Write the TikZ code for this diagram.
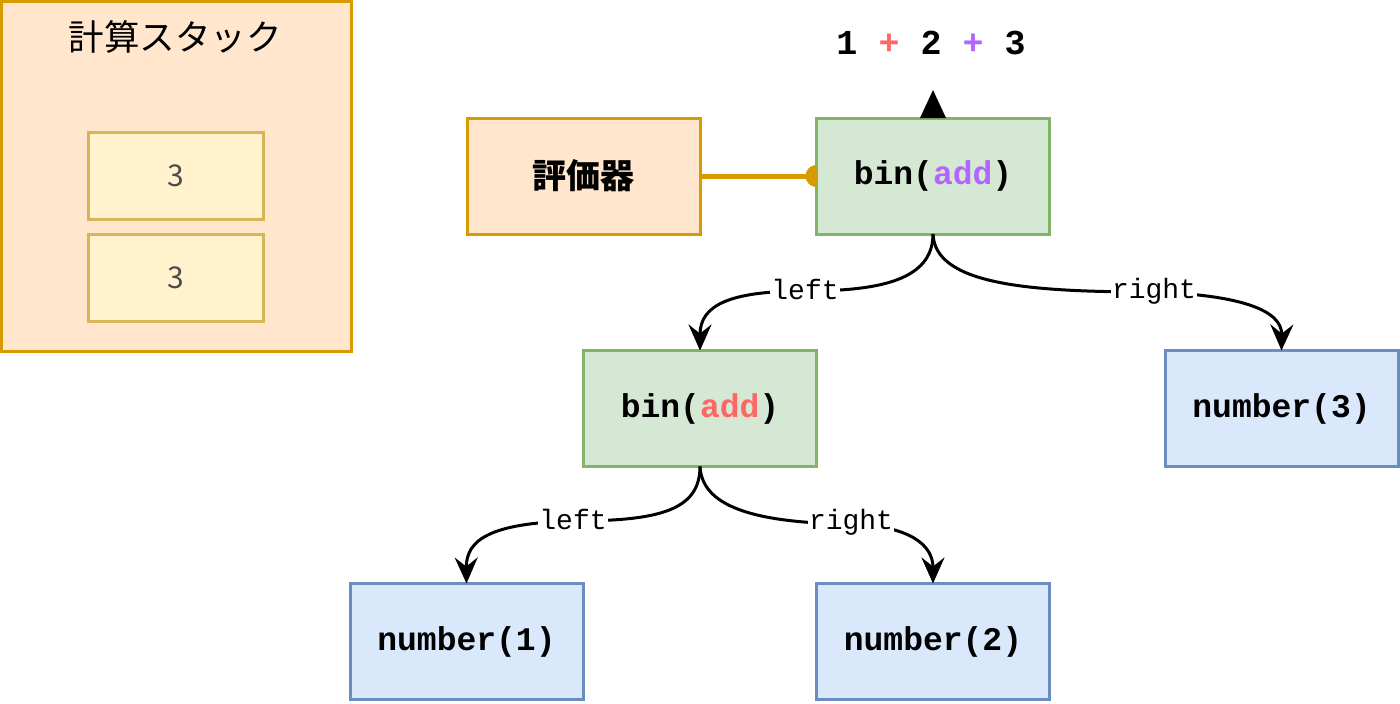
\documentclass[tikz,border=0pt]{standalone}
\usepackage{fontspec}
\setmonofont{Liberation Mono}
\newfontfamily\jp{Noto Sans CJK JP}
\usetikzlibrary{arrows.meta,calc}
\definecolor{orF}{HTML}{FFE6CC}\definecolor{orD}{HTML}{D79B00}
\definecolor{yeF}{HTML}{FFF2CC}\definecolor{yeD}{HTML}{D6B656}
\definecolor{grF}{HTML}{D5E8D4}\definecolor{grD}{HTML}{82B366}
\definecolor{blF}{HTML}{DAE8FC}\definecolor{blD}{HTML}{6C8EBF}
\definecolor{pu}{HTML}{B266FF}\definecolor{rd}{HTML}{FF6666}
\begin{document}
\begin{tikzpicture}[x=1pt,y=-1pt,
  box/.style={draw, line width=3pt, inner sep=0pt, outer sep=0pt, minimum width=233pt, minimum height=116pt},
  orbox/.style={box, fill=orF, draw=orD},
  grbox/.style={box, fill=grF, draw=grD, font=\ttfamily\bfseries\fontsize{33}{40}\selectfont},
  blbox/.style={box, fill=blF, draw=blD, font=\ttfamily\bfseries\fontsize{33}{40}\selectfont},
  stbox/.style={box, fill=yeF, draw=yeD, minimum width=175pt, minimum height=87pt, text=black!70, font=\jp\fontsize{30}{36}\selectfont},
  elabel/.style={fill=white, inner sep=1pt, font=\ttfamily\fontsize{28}{30}\selectfont},
  edge/.style={line width=3pt, -{Stealth[length=26pt,width=23pt,inset=9pt]}}]
\useasboundingbox (0,0) rectangle (1400,704);
% stack
\node[orbox, minimum width=350pt, minimum height=350pt] (stack) at (176,176) {};
\node[font=\jp\fontsize{35.5}{40}\selectfont] (stitle) at (175,37) {計算スタック};
\node[stbox] (s1) at (175.5,175.5) {3};
\node[stbox] (s2) at (175.5,277.5) {3};
% nodes
\node[orbox, font=\jp\bfseries\fontsize{34}{40}\selectfont] (eval) at (583.5,176) {評価器};
\node[grbox] (root) at (933,176) {bin(\textcolor{pu}{add})};
\node[grbox] (lbin) at (700,408.5) {bin(\textcolor{rd}{add})};
\node[blbox] (n3) at (1281.5,408.5) {number(3)};
\node[blbox] (n1) at (466.5,641.5) {number(1)};
\node[blbox] (n2) at (933,641.5) {number(2)};
\node[font=\ttfamily\bfseries\fontsize{35}{40}\selectfont] (expr) at (931,43) {1 \textcolor{rd}{+} 2 \textcolor{pu}{+} 3};
% triangle
\fill ($(root.north)+(-13,0)$) -- ($(root.north)+(13,0)$) -- ($(root.north)+(0,-28)$) -- cycle;
% evaluator connector
\draw[orD, line width=5pt] (eval.east) -- (root.west);
\fill[orD] ($(root.west)+(0,11)$) arc[start angle=90, end angle=270, radius=11] -- cycle;
% edges
\draw[edge] (root.south) .. controls (933,280) and (880,291) .. (805,291)
  .. controls (730,291) and (700,305) .. (lbin.north);
\node[elabel] (ll1) at (805,289) {left};
\draw[edge] (root.south) .. controls (935,285) and (1030,292) .. (1154,292)
  .. controls (1240,295) and (1282,310) .. (n3.north);
\node[elabel] (rl1) at (1154,291) {right};
\draw[edge] (lbin.south) .. controls (700,510) and (660,521) .. (573,521)
  .. controls (490,523) and (466,540) .. (n1.north);
\node[elabel] (ll2) at (573,519) {left};
\draw[edge] (lbin.south) .. controls (702,505) and (750,523) .. (851,524)
  .. controls (910,526) and (933,545) .. (n2.north);
\node[elabel] (rl2) at (851,522) {right};
\end{tikzpicture}
\end{document}
